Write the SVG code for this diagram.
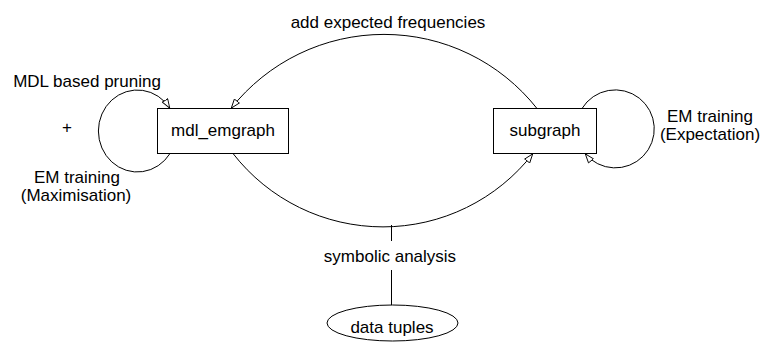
<svg xmlns="http://www.w3.org/2000/svg" width="761" height="343" viewBox="0 0 761 343">
<defs>
<marker id="arr" viewBox="0 0 10 8" refX="10" refY="4" markerWidth="10" markerHeight="8" markerUnits="userSpaceOnUse" orient="auto">
<path d="M0.5,0.8 L9.5,4 L0.5,7.2 Z" fill="#fff" stroke="#000" stroke-width="0.9"/>
</marker>
</defs>
<style>
text{font-family:"Liberation Sans",Arial,sans-serif;font-size:17px;fill:#000;text-anchor:middle}
.n{fill:#fff;stroke:#000;stroke-width:1}
.c{fill:none;stroke:#000;stroke-width:1}
</style>
<rect width="761" height="343" fill="#fff"/>
<g id="connectors">
<path class="c" d="M537,108.5 A195,195 0 0 0 231,108.5" marker-end="url(#arr)"/>
<path class="c" d="M233,153.5 A190,190 0 0 0 533,153.5" marker-end="url(#arr)"/>
<path class="c" d="M170,153.5 A39,41 0 1 1 170,108.5" marker-end="url(#arr)"/>
<path class="c" d="M582,108.5 A39,39 0 1 1 585,153.5" marker-end="url(#arr)"/>
<line class="c" x1="391.5" y1="225" x2="391.5" y2="241"/>
<line class="c" x1="391.5" y1="270" x2="391.5" y2="305"/>
<text x="388" y="28">add expected frequencies</text>
<text x="87" y="87">MDL based pruning</text>
<text x="67" y="133">+</text>
<text x="77" y="183">EM training</text>
<text x="76" y="201">(Maximisation)</text>
<text x="710" y="122">EM training</text>
<text x="710" y="140">(Expectation)</text>
<text x="390" y="262">symbolic analysis</text>
</g>
<g id="mdl_emgraph">
<rect class="n" x="157.5" y="108.5" width="131" height="45"/>
<text x="223" y="136">mdl_emgraph</text>
</g>
<g id="subgraph">
<rect class="n" x="493.5" y="108.5" width="103" height="45"/>
<text x="545" y="136">subgraph</text>
</g>
<g id="data_tuples">
<ellipse class="n" cx="392.5" cy="323" rx="65.5" ry="18"/>
<text x="392" y="333">data tuples</text>
</g>
</svg>
